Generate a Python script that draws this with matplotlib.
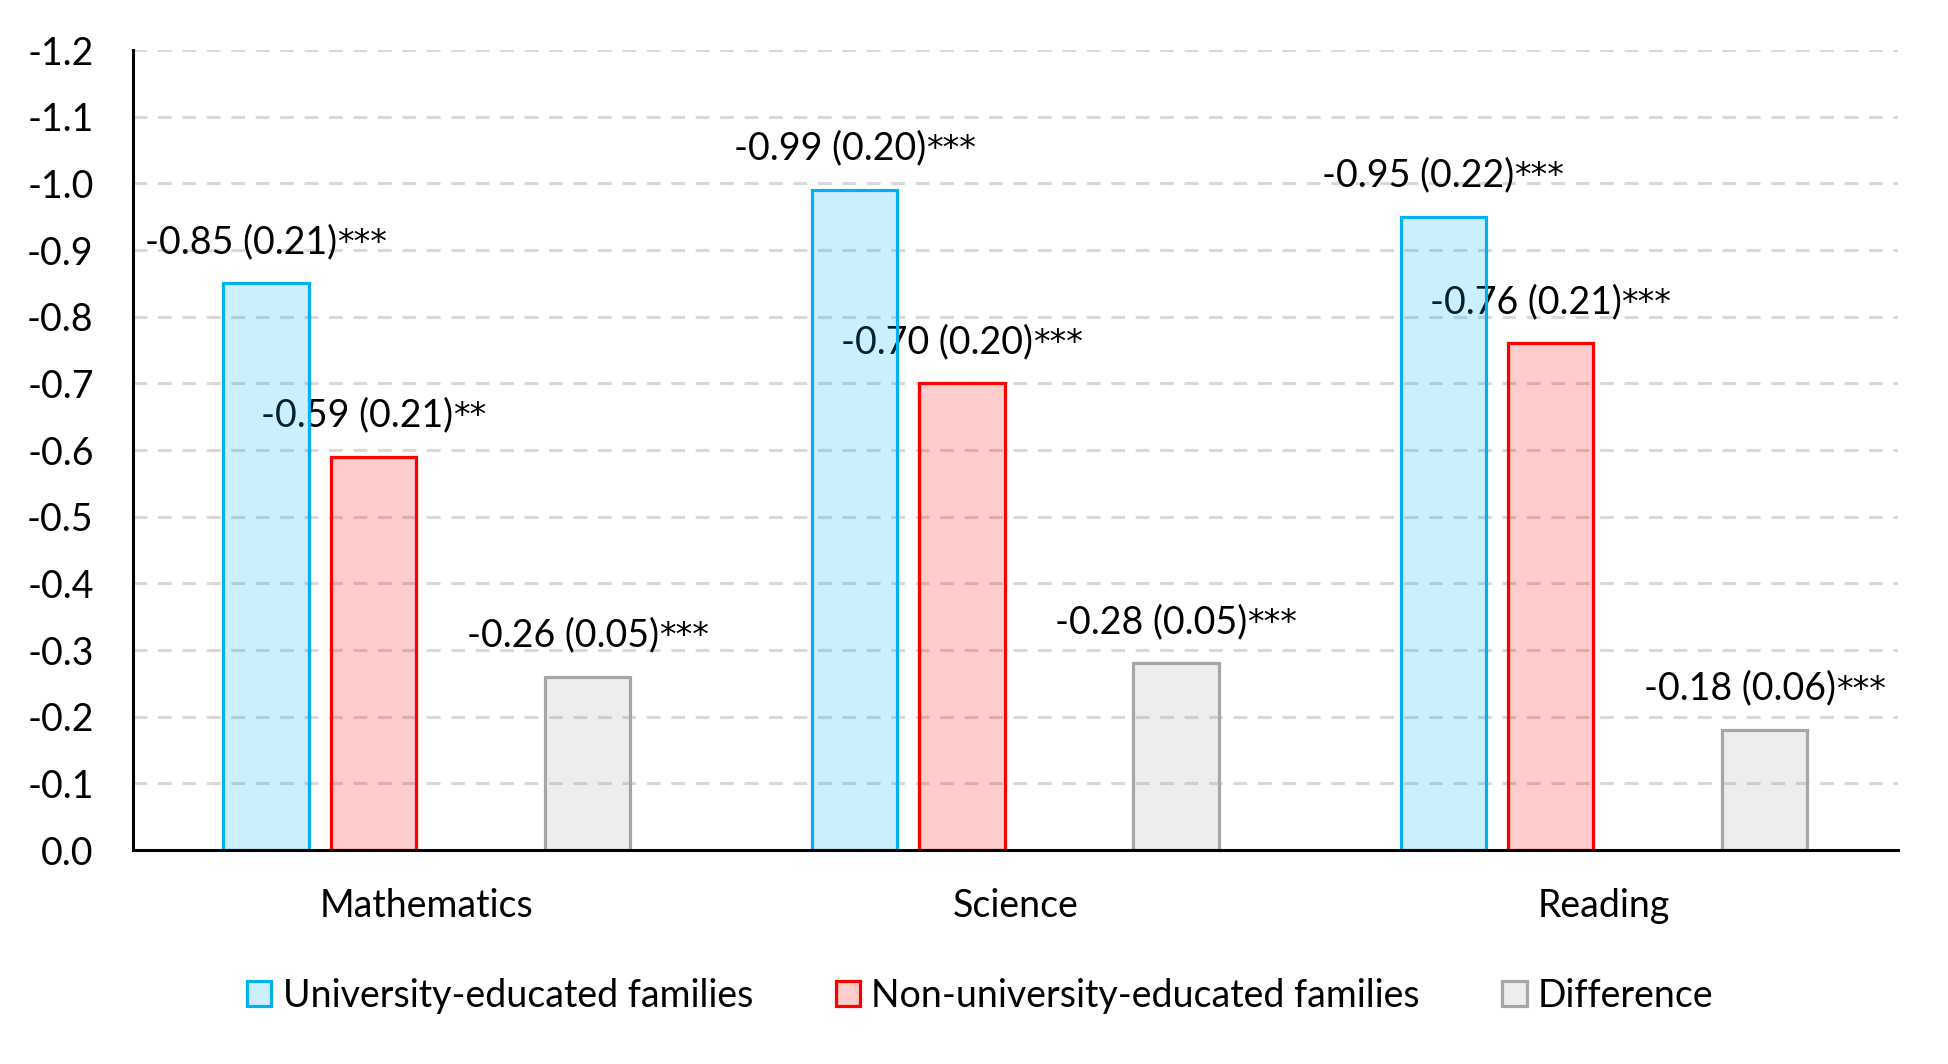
import matplotlib
matplotlib.use("Agg")
import matplotlib.pyplot as plt
from matplotlib.patches import Patch
from matplotlib.colors import to_rgba
import numpy as np

categories = ["Mathematics", "Science", "Reading"]
series_names = ["University-educated families", "Non-university-educated families", "Difference"]
uni_vals = [-0.85, -0.99, -0.95]
nonuni_vals = [-0.59, -0.70, -0.76]
diff_vals = [-0.26, -0.28, -0.18]
uni_labels = ["-0.85 (0.21)***", "-0.99 (0.20)***", "-0.95 (0.22)***"]
nonuni_labels = ["-0.59 (0.21)**", "-0.70 (0.20)***", "-0.76 (0.21)***"]
diff_labels = ["-0.26 (0.05)***", "-0.28 (0.05)***", "-0.18 (0.06)***"]
yticks = [0.0, -0.1, -0.2, -0.3, -0.4, -0.5, -0.6, -0.7, -0.8, -0.9, -1.0, -1.1, -1.2]

plt.rcParams['font.family'] = ['Lato', 'DejaVu Sans']
FS = 27
STAR_FONT = 'DejaVu Sans'
STAR_FS = 24

fig = plt.figure(figsize=(19.49, 10.64), dpi=100)
ax = fig.add_axes([0.068, 0.201, 0.906, 0.752])
renderer = fig.canvas.get_renderer()

slot = 0.182
bw = 0.145
x = np.arange(len(categories))
offsets = [-1.5 * slot, -0.5 * slot, 1.5 * slot]
edge_colors = ["#00B0F0", "#FF0000", "#A6A6A6"]
data = [uni_vals, nonuni_vals, diff_vals]
labels = [uni_labels, nonuni_labels, diff_labels]


def text_width(s, **kw):
    t = fig.text(0, 0, s, **kw)
    w = t.get_window_extent(renderer).width
    t.remove()
    return w


for vals, labs, off, ec in zip(data, labels, offsets, edge_colors):
    fc = to_rgba(ec, 0.2)
    bars = ax.bar(x + off, vals, width=bw, color=fc, edgecolor=ec, linewidth=2.3, zorder=3)
    for b, lab in zip(bars, labs):
        num = lab.rstrip('*')
        stars = lab[len(num):]
        w1 = text_width(num, fontsize=FS, family='Lato')
        w2 = text_width(stars, fontsize=STAR_FS, family=STAR_FONT)
        x0 = -(w1 + w2) / 2 * 72 / fig.dpi
        xy = (b.get_x() + b.get_width() / 2, b.get_height())
        ax.annotate(num, xy, xytext=(x0, 22), textcoords="offset points",
                    ha="left", va="baseline", fontsize=FS, family='Lato', zorder=2)
        ax.annotate(stars, xy, xytext=(x0 + w1 * 72 / fig.dpi, 22), textcoords="offset points",
                    ha="left", va="baseline", fontsize=STAR_FS, family=STAR_FONT, zorder=2)

ax.set_xlim(-0.5, 2.5)
ax.set_ylim(0, -1.2)
ax.set_yticks(yticks)
ax.set_yticklabels([f"{v:.1f}" if v != 0 else "0.0" for v in yticks])
ax.set_xticks(x)
ax.set_xticklabels(categories)
ax.tick_params(axis='y', length=0, pad=28, labelsize=FS)
ax.tick_params(axis='x', length=0, pad=27, labelsize=FS)
ax.yaxis.grid(True, color="#D9D9D9", linewidth=2.2, linestyle=(0, (4.5, 3.5)), zorder=0)
ax.set_axisbelow(True)
for s in ["top", "right"]:
    ax.spines[s].set_visible(False)
for s in ["left", "bottom"]:
    ax.spines[s].set_linewidth(2.2)
    ax.spines[s].set_color("black")
ax.spines["bottom"].set_zorder(5)

handles = [Patch(facecolor=to_rgba(ec, 0.2), edgecolor=ec, linewidth=2.3) for ec in edge_colors]
fig.legend(handles, series_names, loc="center", bbox_to_anchor=(0.503, 0.064), ncol=3,
           frameon=False, fontsize=FS, handlelength=0.65, handleheight=0.65,
           handletextpad=0.3, columnspacing=2.2)

fig.savefig("out.png", dpi=100)
